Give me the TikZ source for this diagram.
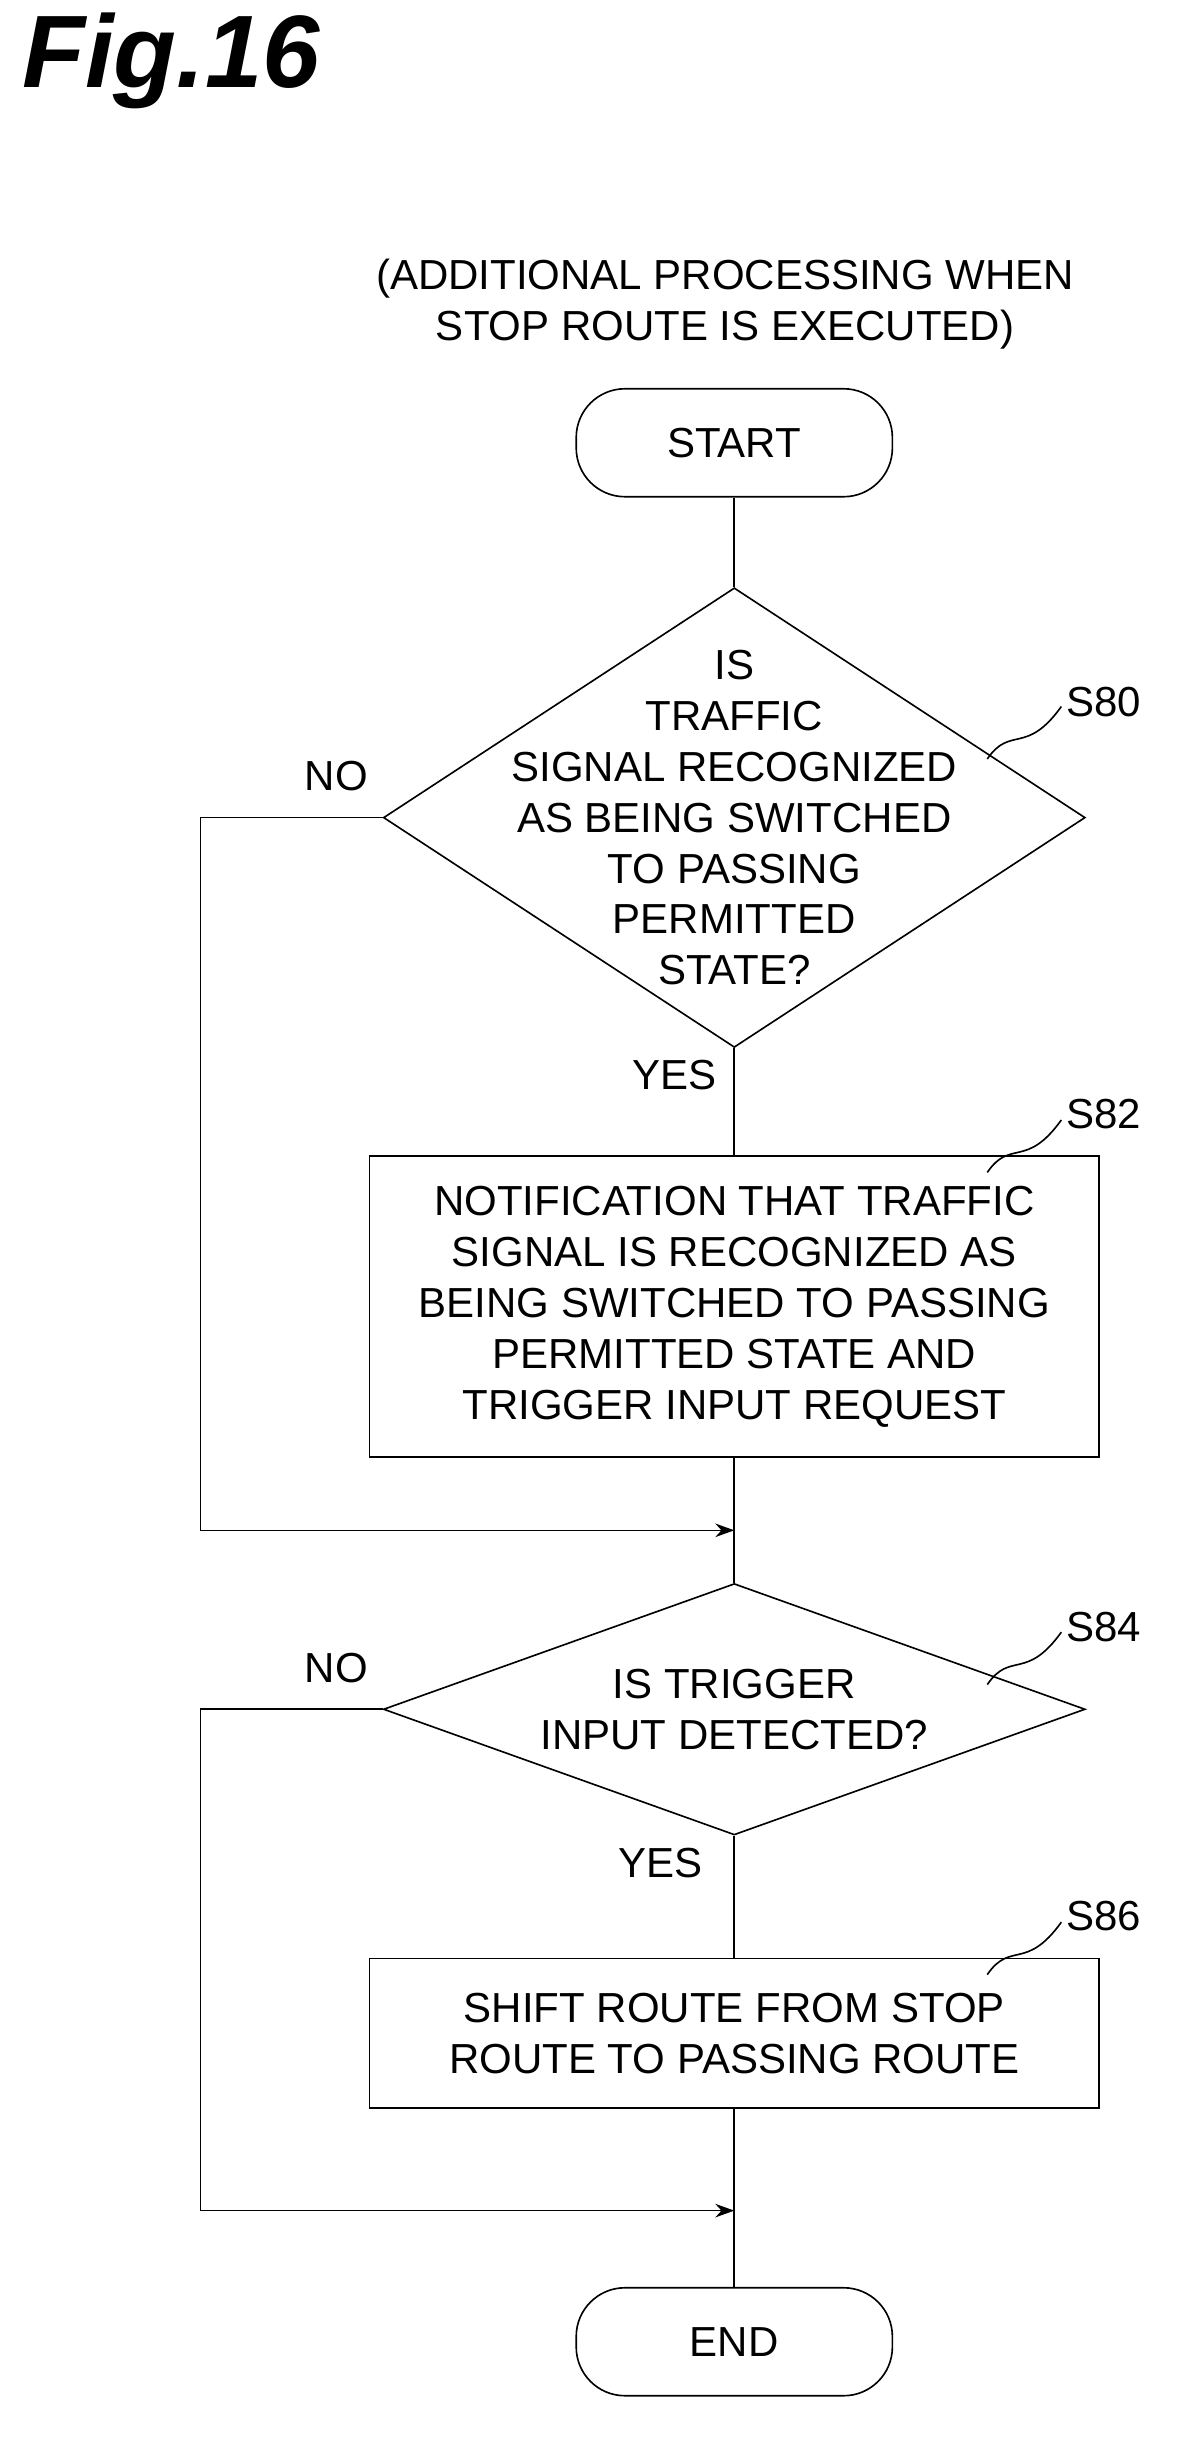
\documentclass[tikz,border=0pt]{standalone}
\usepackage{fontspec}
\setmainfont{Liberation Sans}
\usetikzlibrary{shapes.geometric,arrows.meta}
\tikzset{
    TT/.style ={font=\fontsize{15.5}{18.8}\selectfont, align=center},
    TR/.style ={rectangle, rounded corners=18pt, minimum width=4.1cm, minimum height=1.4cm, draw, TT},
    DI/.style ={diamond, minimum width=9.1cm, minimum height=#1, inner sep=0pt, draw},
    BX/.style ={rectangle, minimum width=9.46cm, draw, TT},
    SL/.style ={TT, anchor=west},
    AR/.style ={-{Stealth[length=7pt,width=5pt]}}}

\begin{document}
\begin{tikzpicture}[x=0.02cm,y=-0.02cm,line width=0.6pt]
        \useasboundingbox (0,0) rectangle (770,1583);
        \node[anchor=north west, font=\fontsize{38}{40}\selectfont\bfseries\itshape] (fig) at (8,2){Fig.16};
        \node[TT] (title) at (470,197){(ADDITIONAL PROCESSING WHEN\\STOP ROUTE IS EXECUTED)};
        \node[TR] (start) at (476,287){START};
        \node[DI=5.96cm] (s80) at (476,530){};
        \node[TT] (t80) at (s80){IS\\TRAFFIC\\SIGNAL RECOGNIZED\\AS BEING SWITCHED\\TO PASSING\\PERMITTED\\STATE?};
        \node[BX, minimum height=3.9cm] (s82) at (476,847){NOTIFICATION THAT TRAFFIC\\SIGNAL IS RECOGNIZED AS\\BEING SWITCHED TO PASSING\\PERMITTED STATE AND\\TRIGGER INPUT REQUEST};
        \node[DI=3.26cm] (s84) at (476,1108){};
        \node[TT] (t84) at (s84){IS TRIGGER\\INPUT DETECTED?};
        \node[BX, minimum height=1.94cm] (s86) at (476,1318){SHIFT ROUTE FROM STOP\\ROUTE TO PASSING ROUTE};
        \node[TR] (end) at (476,1518){END};
        \coordinate (m1) at (476,992);
        \coordinate (m2) at (476,1433);
        \coordinate (c1) at (130,530);
        \coordinate (c2) at (130,1108);
        % labels
        \node[SL] (l80) at (685,455){S80};
        \node[SL] (l82) at (685,722){S82};
        \node[SL] (l84) at (685,1055){S84};
        \node[SL] (l86) at (685,1242){S86};
        \draw (640,492) .. controls (655,470) and (665,490) .. (688,458);
        \draw (640,760) .. controls (655,738) and (665,758) .. (688,726);
        \draw (640,1092) .. controls (655,1070) and (665,1090) .. (688,1058);
        \draw (640,1280) .. controls (655,1258) and (665,1278) .. (688,1246);
        \node[TT] (n80) at (218,503){NO};
        \node[TT] (y80) at (437,697){YES};
        \node[TT] (n84) at (218,1081){NO};
        \node[TT] (y84) at (428,1208){YES};
        % flow
        \draw (start) -- (s80.north);
        \draw (s80.south) -- (s82);
        \draw (s82) -- (s84.north);
        \draw (s84.south) -- (s86);
        \draw (s86) -- (end);
        \draw[AR] (s80.west) -- (c1) |- (m1);
        \draw[AR] (s84.west) -- (c2) |- (m2);
    \end{tikzpicture}
\end{document}
